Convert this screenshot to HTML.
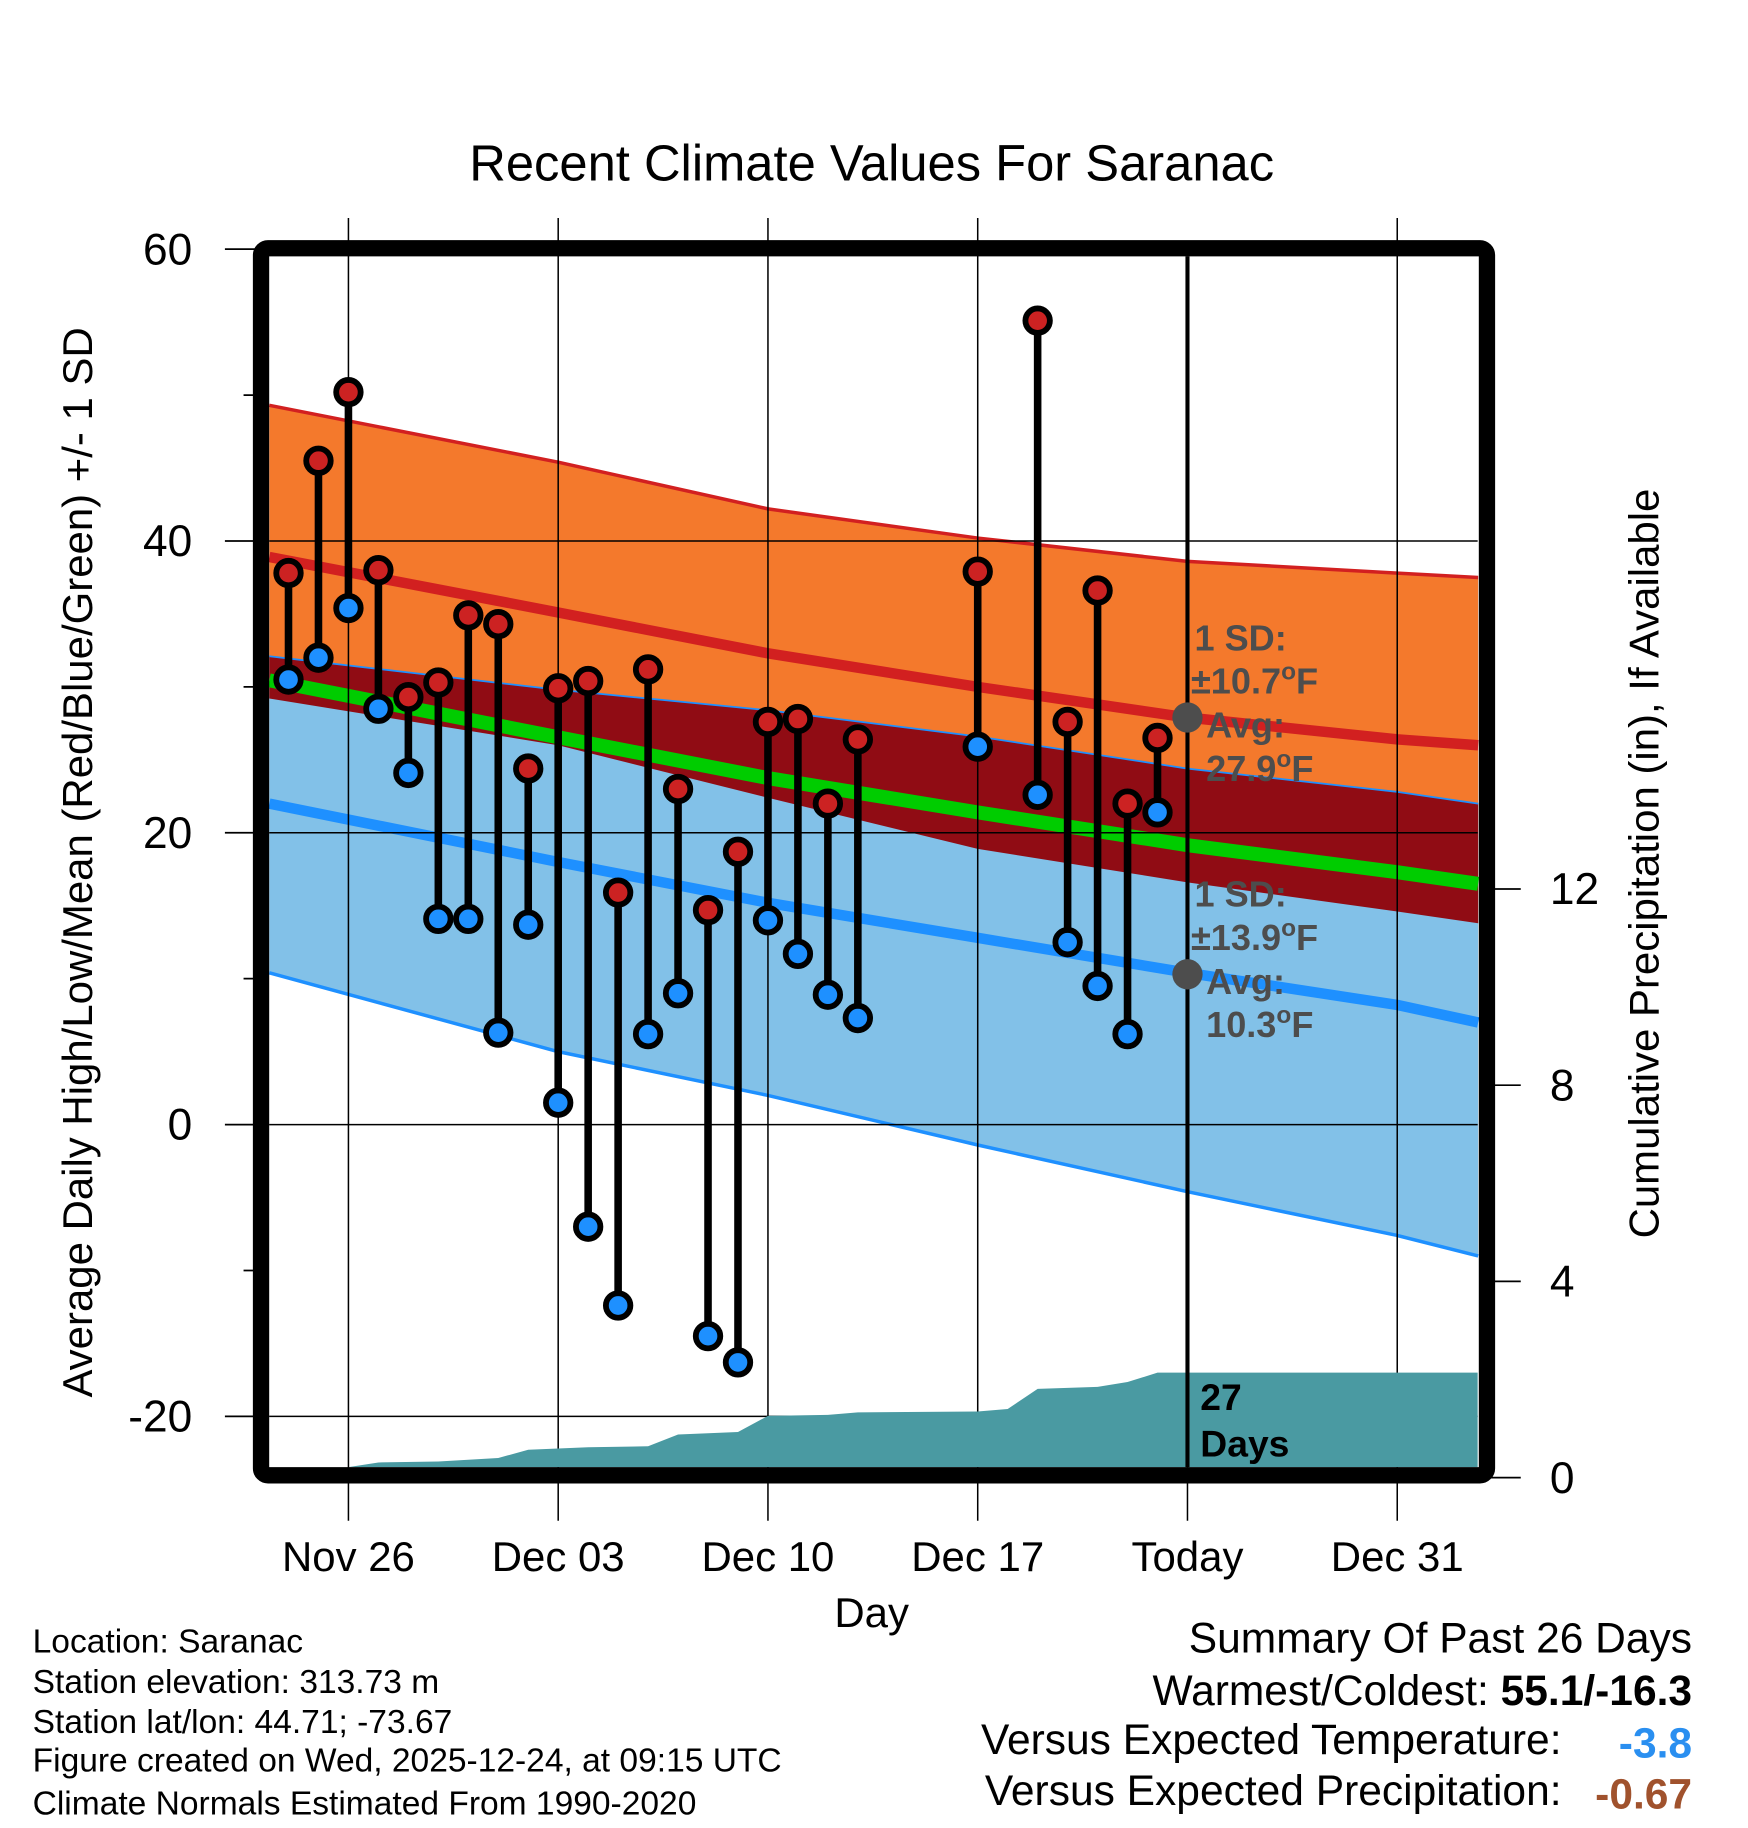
<!DOCTYPE html>
<html><head><meta charset="utf-8"><style>
html,body{margin:0;padding:0;background:#fff;}
svg{display:block;font-family:"Liberation Sans",Arial,sans-serif;}
</style></head><body>
<svg id="chart" xmlns="http://www.w3.org/2000/svg" width="1748" height="1828" viewBox="0 0 1500 1568.6">
<rect x="0" y="0" width="1500" height="1568.6" fill="#fff"/>
<text x="748" y="155" font-size="43.5" text-anchor="middle">Recent Climate Values For Saranac</text>
<g id="bands"></g>
<g id="grid"></g>
<g id="precip"></g>
<g id="marks"></g>
<g id="annot"></g>
<g id="axes"></g>
<text transform="translate(79,740) rotate(-90)" font-size="36" text-anchor="middle">Average Daily High/Low/Mean (Red/Blue/Green) +/- 1 SD</text>
<text transform="translate(1423,741) rotate(-90)" font-size="36" text-anchor="middle">Cumulative Precipitation (in), If Available</text>
<text x="748" y="1396" font-size="36" text-anchor="middle">Day</text>
<g font-size="28.8">
<text x="28" y="1418">Location: Saranac</text>
<text x="28" y="1453">Station elevation: 313.73 m</text>
<text x="28" y="1487">Station lat/lon: 44.71; -73.67</text>
<text x="28" y="1520">Figure created on Wed, 2025-12-24, at 09:15 UTC</text>
<text x="28" y="1557">Climate Normals Estimated From 1990-2020</text>
</g>
<g font-size="36.5">
<text x="1452" y="1418" text-anchor="end">Summary Of Past 26 Days</text>
<text x="1452" y="1463" text-anchor="end">Warmest/Coldest: <tspan font-weight="bold">55.1/-16.3</tspan></text>
<text x="1340" y="1505" text-anchor="end">Versus Expected Temperature:</text>
<text x="1452" y="1508" text-anchor="end" font-weight="bold" fill="#2a8ff0">-3.8</text>
<text x="1340" y="1549" text-anchor="end">Versus Expected Precipitation:</text>
<text x="1452" y="1552" text-anchor="end" font-weight="bold" fill="#a0522d">-0.67</text>
</g>
</svg>
<script>
// ---- data ----
const normDays = [-2.64, 7, 14, 21, 28, 35, 37.7];
const highUpper = [49.3, 45.4, 42.2, 40.2, 38.6, 37.8, 37.5];
const highMean  = [38.9, 35.1, 32.3, 30.0, 27.9, 26.4, 26.0];
const highLower = [29.2, 26.0, 22.4, 18.9, 16.6, 14.6, 13.8];
const lowUpper  = [32.1, 29.8, 28.4, 26.6, 24.4, 22.8, 22.0];
const lowMean   = [22.0, 18.0, 15.2, 12.8, 10.4, 8.2, 7.0];
const lowLower  = [10.4, 5.0, 2.0, -1.4, -4.6, -7.6, -9.0];
const obsDays = [-2,-1,0,1,2,3,4,5,6,7,8,9,10,11,12,13,14,15,16,17,21,23,24,25,26,27];
const obsHigh = [37.8,45.5,50.2,38.0,29.3,30.3,34.9,34.3,24.4,29.9,30.4,15.9,31.2,23.0,14.7,18.7,27.6,27.8,22.0,26.4,37.9,55.1,27.6,36.6,22.0,26.5];
const obsLow  = [30.5,32.0,35.4,28.5,24.1,14.1,14.1,6.3,13.7,1.5,-7.0,-12.4,6.2,9.0,-14.5,-16.3,14.0,11.7,8.9,7.3,25.9,22.6,12.5,9.5,6.2,21.4];
const precipDays = [0,1,3,5,6,8,10,11,13,14,16,17,21,22,23,25,26,27,37.7];
const precipVals = [0.2,0.31,0.33,0.4,0.57,0.62,0.64,0.88,0.93,1.26,1.28,1.33,1.35,1.40,1.81,1.85,1.95,2.14,2.14];
const yTicks = [60,40,20,0,-20];
const yMinor = [50,30,10,-10];
const y2Ticks = [0,4,8,12];
const xTickDays = [0,7,14,21,28,35];
const xTickLabels = ["Nov 26","Dec 03","Dec 10","Dec 17","Today","Dec 31"];
// ---- scales ----
const X = d => 299 + d*180/7;
const Y = v => 965 - 12.52*v;
const Y2 = p => 1268 - 42.1*p;
const L = 231, R = 1268, T = 220, B = 1259;
const NS = "http://www.w3.org/2000/svg";
function mk(tag, attrs, parent){const e=document.createElementNS(NS,tag);for(const k in attrs)e.setAttribute(k,attrs[k]);parent.appendChild(e);return e;}
const bands=document.getElementById('bands'), grid=document.getElementById('grid'), precip=document.getElementById('precip'), marks=document.getElementById('marks'), annot=document.getElementById('annot'), axes=document.getElementById('axes');
function pts(arr){return normDays.map((d,i)=>X(d)+','+Y(arr[i]));}
function area(up,lo){return pts(up).concat(pts(lo).reverse()).join(' ');}
let e;
e=mk('polygon',{points:area(highUpper,highLower),fill:'#f4792c'},bands);


e=mk('polygon',{points:area(lowUpper,lowLower),fill:'#82c1e8'},bands);


e=mk('polygon',{points:area(lowUpper,highLower),fill:'#900c14'},bands);


const lines=[[highUpper,'#d22020',3,'high-upper-line'],[lowUpper,'#1e90ff',1.5,'low-upper-line'],[lowLower,'#1e90ff',3,'low-lower-line'],[highMean,'#d22020',9,'normal-high-line'],[lowMean,'#1e90ff',9,'normal-low-line'],[highMean.map((h,i)=>(h+lowMean[i])/2),'#00cc00',12,'normal-mean-line']];
lines.forEach(l=>{
 e=mk('polyline',{points:normDays.map((d,i)=>X(d)+','+Y(l[0][i])).join(' '),fill:'none',stroke:l[1],'stroke-width':l[2]},bands);
 
 
});
// grid
yTicks.forEach(v=>{ if(Y(v)>T&&Y(v)<B){
 e=mk('line',{x1:L,x2:R,y1:Y(v),y2:Y(v),stroke:'#000','stroke-width':1.3},grid);
 
 }});
xTickDays.forEach((d,i)=>{
 e=mk('line',{x1:X(d),x2:X(d),y1:i==4?T:187,y2:1305,stroke:'#000','stroke-width':1.3},grid);
 
 
});
// precip
let pp=[X(precipDays[0])+','+B];
precipDays.forEach((d,i)=>pp.push(Math.min(X(d),R)+','+Math.min(Y2(precipVals[i]),B)));
pp.push(R+','+B);
e=mk('polygon',{points:pp.join(' '),fill:'#4a9aa2'},precip);


e=mk('line',{x1:X(28),x2:X(28),y1:T,y2:B,stroke:'#000','stroke-width':3.5},precip);


e=mk('text',{x:1030,y:1210,'font-size':32,'font-weight':'bold'},precip);e.textContent='27';


e=mk('text',{x:1030,y:1250,'font-size':32,'font-weight':'bold'},precip);e.textContent='Days';


// annotations
function ann(y0,l1,l2,l3,cy){
 [[l1,1025,y0],[l2,1022,y0+37],['Avg:',1035,y0+75],[l3,1035,y0+112]].forEach(t=>{
  e=mk('text',{x:t[1],y:t[2],'font-size':31,'font-weight':'bold',fill:'#4d4d4d'},annot);e.innerHTML=t[0];
  
  
 });
 e=mk('circle',{cx:X(28),cy:cy,r:13,fill:'#4d4d4d'},annot);
 
 
}
ann(558,'1 SD:','±10.7<tspan dy="-12" font-size="21">o</tspan><tspan dy="12">F</tspan>','27.9<tspan dy="-12" font-size="21">o</tspan><tspan dy="12">F</tspan>',Y(27.9));
ann(778,'1 SD:','±13.9<tspan dy="-12" font-size="21">o</tspan><tspan dy="12">F</tspan>','10.3<tspan dy="-12" font-size="21">o</tspan><tspan dy="12">F</tspan>',Y(10.3));
// observations
obsDays.forEach((d,i)=>{
 const x=X(d);
 e=mk('line',{x1:x,x2:x,y1:Y(obsHigh[i]),y2:Y(obsLow[i]),stroke:'#000','stroke-width':6.5},marks);
 
 
 e=mk('circle',{cx:x,cy:Y(obsHigh[i]),r:10.5,fill:'#cc2222',stroke:'#000','stroke-width':5},marks);
 
 
 e=mk('circle',{cx:x,cy:Y(obsLow[i]),r:10.5,fill:'#1e90ff',stroke:'#000','stroke-width':5},marks);
 
 
});
// frame
e=mk('rect',{x:224,y:213,width:1052,height:1053,rx:6,fill:'none',stroke:'#000','stroke-width':14},axes);


yTicks.forEach(v=>{
 e=mk('line',{x1:193,x2:224,y1:Y(v),y2:Y(v),stroke:'#000','stroke-width':1.5},axes);
 
 
 e=mk('text',{x:165,y:Y(v)+13,'font-size':38,'text-anchor':'end'},axes);e.textContent=v;
 
 
});
yMinor.forEach(v=>{
 e=mk('line',{x1:209,x2:224,y1:Y(v),y2:Y(v),stroke:'#000','stroke-width':1.5},axes);
 
 
});
y2Ticks.forEach(p=>{
 e=mk('line',{x1:1276,x2:1305,y1:Y2(p),y2:Y2(p),stroke:'#000','stroke-width':1.5},axes);
 
 
 e=mk('text',{x:1330,y:Y2(p)+13,'font-size':38},axes);e.textContent=p;
 
 
});
xTickDays.forEach((d,i)=>{
 e=mk('text',{x:X(d),y:1348,'font-size':36,'text-anchor':'middle'},axes);e.textContent=xTickLabels[i];
 
 
});
</script>
</body></html>
